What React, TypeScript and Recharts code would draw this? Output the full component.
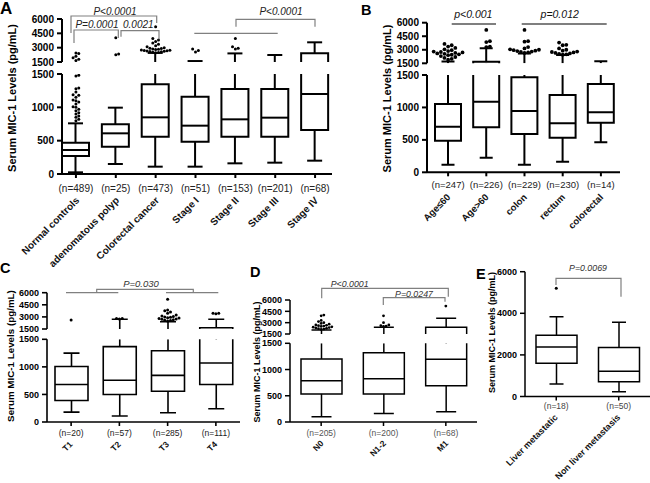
import React from 'react';
import { ComposedChart, Bar, Scatter, XAxis, YAxis } from 'recharts';

const W = 650;
const H = 483;
const FONT = '"Liberation Sans", Arial, Helvetica, sans-serif';

// ---- panel A: controls / polyp / cancer / stages ----
const aCats = ['Normal controls', 'adenomatous polyp', 'Colorectal cancer', 'Stage I', 'Stage II', 'Stage III', 'Stage IV'];
const aN = [489, 25, 473, 51, 153, 201, 68];
const aLo = [25, 150, 110, 110, 160, 170, 200];
const aQ1 = [270, 410, 560, 485, 560, 560, 660];
const aMed = [360, 610, 850, 725, 820, 845, 1200];
const aQ3 = [470, 745, 1345, 1160, 1275, 1275, 2410];
const aHi = [760, 995, 2450, 1600, 2400, 2230, 3560];
const aOut = [
  [800, 820, 850, 870, 900, 920, 950, 970, 1000, 1010, 1050, 1080, 1100, 1110, 1150, 1180, 1190, 1230, 1280, 1290, 1470, 1480,
    1650, 1800, 1950, 2100, 2400, 2450],
  [2250, 2350, 4050],
  [2460, 2500, 2530, 2560, 2600, 2620, 2650, 2680, 2700, 2730, 2760, 2800, 2830, 2870, 2900, 2950, 3000, 3100, 3200, 3350,
    3500, 3650, 3800, 3950, 5200],
  [2550, 2700, 2850],
  [2850, 2950, 3100, 3950],
  [],
  [],
];

// ---- panel B: age / location ----
const bCats = ['Age≤60', 'Age>60', 'colon', 'rectum', 'colorectal'];
const bN = [247, 226, 229, 230, 14];
const bLo = [117, 225, 117, 163, 462];
const bQ1 = [487, 694, 590, 533, 765];
const bMed = [703, 1088, 945, 755, 925];
const bQ3 = [1053, 1680, 1465, 1192, 1361];
const bHi = [1700, 3160, 2600, 2420, 1720];
const bOut = [
  [1900, 2000, 2100, 2200, 2300, 2400, 2450, 2500, 2550, 2600, 2650, 2700, 2750, 2800, 2850, 2950, 3050, 3200, 3350, 3500, 3650],
  [3300, 3350, 3850, 3950, 5200],
  [2650, 2700, 2750, 2800, 2850, 2900, 2950, 3000, 3050, 3150, 3300, 3900, 3950, 5200],
  [2450, 2500, 2550, 2600, 2650, 2700, 2750, 2800, 2900, 3000, 3150, 3500, 3550, 3800],
  [],
];

// ---- panel C: T stage ----
const cCats = ['T1', 'T2', 'T3', 'T4'];
const cN = [20, 57, 285, 111];
const cLo = [180, 108, 169, 241];
const cQ1 = [391, 499, 558, 679];
const cMed = [679, 756, 846, 1070];
const cQ3 = [1008, 1368, 1291, 1660];
const cHi = [1250, 2700, 2405, 2700];
const cOut = [
  [2620],
  [2750, 2800, 2800],
  [2500, 2550, 2600, 2650, 2700, 2750, 2800, 2850, 2900, 2950, 3000, 3050, 3100, 3250, 3450, 3600, 3750, 3850, 5180],
  [3400, 3450, 3450],
];

// ---- panel D: N / M stage ----
const dCats = ['N0', 'N1-2', 'M1'];
const dN = [205, 200, 68];
const dLo = [102, 164, 196];
const dQ1 = [536, 536, 693];
const dMed = [788, 825, 1197];
const dQ3 = [1203, 1322, 2390];
const dHi = [2030, 2390, 3580];
const dOut = [
  [2100, 2150, 2200, 2250, 2300, 2350, 2400, 2450, 2500, 2550, 2600, 2650, 2700, 2800, 2900, 3000, 3150, 3300, 3900, 4000],
  [2500, 2550, 2600, 2700, 3000, 3900],
  [5200],
];

// ---- panel E: liver metastasis ----
const eCats = ['Liver metastatic', 'Non liver metastasis'];
const eN = [18, 50];
const eLo = [600, 228];
const eQ1 = [1600, 712];
const eMed = [2375, 1213];
const eQ3 = [2940, 2360];
const eHi = [3830, 3570];
const eOut = [[5200], []];

const upTicks = [1500, 3000, 4500, 6000];
const loTicks = [0, 500, 1000, 1500];
const eTicks = [0, 2000, 4000, 6000];

type Row = { name: string; n: number; lo: number; q1: number; med: number; q3: number; hi: number; out: number[] };

function toRows(cats: string[], n: number[], lo: number[], q1: number[], med: number[], q3: number[], hi: number[], out: number[][]): Row[] {
  return cats.map((c, i) => ({ name: c, n: n[i], lo: lo[i], q1: q1[i], med: med[i], q3: q3[i], hi: hi[i], out: out[i] }));
}

const aRows = toRows(aCats, aN, aLo, aQ1, aMed, aQ3, aHi, aOut);
const bRows = toRows(bCats, bN, bLo, bQ1, bMed, bQ3, bHi, bOut);
const cRows = toRows(cCats, cN, cLo, cQ1, cMed, cQ3, cHi, cOut);
const dRows = toRows(dCats, dN, dLo, dQ1, dMed, dQ3, dHi, dOut);
const eRows = toRows(eCats, eN, eLo, eQ1, eMed, eQ3, eHi, eOut);

function clip(a: number, b: number, d0: number, d1: number) {
  const lo = Math.max(a, d0);
  const hi = Math.min(b, d1);
  return lo < hi ? [lo, hi] : null;
}

// rows for one segment of a broken axis; outliers get a beeswarm slot
function segRows(rows: Row[], dom: number[], px: number, dotPx: number) {
  const thr = ((dom[1] - dom[0]) * dotPx) / px;
  return rows.map((r) => {
    const o: any = { name: r.name, raw: r };
    o.w = clip(r.lo, r.hi, dom[0], dom[1]);
    o.box = clip(r.q1, r.q3, dom[0], dom[1]);
    o.mid = r.med >= dom[0] && r.med <= dom[1] ? clip(r.q1, r.med, dom[0], dom[1]) : null;
    const vals = r.out.filter((v) => v >= dom[0] && v <= dom[1]).sort((a, b) => a - b);
    const placed: { v: number; s: number }[] = [];
    vals.forEach((v, k) => {
      let s = 0;
      for (let t = 0; t < 60; t++) {
        const cand = t === 0 ? 0 : t % 2 ? (t + 1) / 2 : -t / 2;
        if (!placed.some((p) => p.s === cand && Math.abs(p.v - v) < thr)) {
          s = cand;
          break;
        }
      }
      placed.push({ v, s });
      o['o' + k] = v;
      o['s' + k] = s;
    });
    return o;
  });
}

const Whisker = (p: any) => {
  const { x, y, width, height, payload, st, dom } = p;
  if (!payload || !payload.w || !Number.isFinite(y) || !Number.isFinite(height)) return <g />;
  const r = payload.raw;
  const cx = x + width / 2;
  return (
    <g stroke="#000" strokeWidth={st.sw}>
      <line x1={cx} x2={cx} y1={y} y2={y + height} />
      {r.hi <= dom[1] && <line x1={cx - st.cap / 2} x2={cx + st.cap / 2} y1={y} y2={y} />}
      {r.lo >= dom[0] && <line x1={cx - st.cap / 2} x2={cx + st.cap / 2} y1={y + height} y2={y + height} />}
    </g>
  );
};

const BoxRect = (p: any) => {
  const { x, y, width, height, payload, st, dom } = p;
  if (!payload || !payload.box || !Number.isFinite(y) || !Number.isFinite(height)) return <g />;
  const r = payload.raw;
  const x2 = x + width;
  const y2 = y + height;
  let d = `M${x},${y} V${y2} M${x2},${y} V${y2}`;
  if (r.q3 <= dom[1]) d += ` M${x},${y} H${x2}`;
  if (r.q1 >= dom[0]) d += ` M${x},${y2} H${x2}`;
  return (
    <g>
      <rect x={x} y={y} width={width} height={height} fill="#fff" />
      <path d={d} stroke="#000" strokeWidth={st.sw} fill="none" strokeLinecap="square" />
    </g>
  );
};

const Median = (p: any) => {
  const { x, y, width, payload, st } = p;
  if (!payload || !payload.mid || !Number.isFinite(y)) return <g />;
  return <line x1={x} x2={x + width} y1={y} y2={y} stroke="#000" strokeWidth={st.sw} />;
};

const XTick = (p: any) => {
  const { x, y, payload, index, rows, xl } = p;
  const r = rows[index];
  return (
    <g fontFamily={FONT}>
      <text x={x} y={y + xl.nDy} textAnchor="middle" fontSize={xl.nFont} fill={xl.nColor}>
        (n={r ? r.n : ''})
      </text>
      <text
        transform={`translate(${x + xl.labDx},${y + xl.labDy}) rotate(-45)`}
        textAnchor="end"
        fontSize={xl.labFont}
        fontWeight="bold"
        fill="#111"
      >
        {payload.value}
      </text>
    </g>
  );
};

function Layer({ rows, dom, ticks, geo, st, xl }: any) {
  const data = segRows(rows, dom, geo.bottom - geo.top, st.dot * 2.1);
  const nOut = Math.max(0, ...rows.map((r: Row) => r.out.length));
  const yw = 40;
  const margin = {
    top: geo.top,
    right: W - geo.right,
    left: geo.left - yw,
    bottom: xl ? 0 : H - geo.bottom,
  };
  const axisStyle = { stroke: '#000', strokeWidth: st.axisW };
  return (
    <div style={{ position: 'absolute', left: 0, top: 0 }}>
      <ComposedChart width={W} height={H} data={data} margin={margin} barGap={-st.bar} barCategoryGap={0}>
        <XAxis
          dataKey="name"
          hide={!xl}
          height={xl ? H - geo.bottom : 0}
          padding={{ left: st.padL, right: st.padR }}
          axisLine={axisStyle}
          tickLine={axisStyle}
          tickSize={4}
          tickMargin={2}
          interval={0}
          tick={xl ? <XTick rows={rows} xl={xl} /> : false}
        />
        <YAxis
          type="number"
          domain={dom}
          ticks={ticks}
          allowDataOverflow
          interval={0}
          width={yw}
          axisLine={axisStyle}
          tickLine={axisStyle}
          tickSize={5}
          tickMargin={3}
          tick={{ fontSize: st.tickFont, fontWeight: 'bold', fill: '#000', fontFamily: FONT }}
        />
        <Bar dataKey="w" barSize={st.bar} isAnimationActive={false} shape={(p: any) => <Whisker {...p} st={st} dom={dom} />} />
        <Bar dataKey="box" barSize={st.bar} isAnimationActive={false} shape={(p: any) => <BoxRect {...p} st={st} dom={dom} />} />
        <Bar dataKey="mid" barSize={st.bar} isAnimationActive={false} shape={(p: any) => <Median {...p} st={st} />} />
        {Array.from({ length: nOut }, (_, k) => (
          <Scatter
            key={k}
            dataKey={'o' + k}
            isAnimationActive={false}
            shape={(p: any) => {
              const v = p.payload ? p.payload['o' + k] : null;
              if (v == null || !Number.isFinite(p.cx) || !Number.isFinite(p.cy)) return <g />;
              const s = p.payload['s' + k] || 0;
              return <circle cx={p.cx + s * st.dot * 1.9} cy={p.cy} r={st.dot} fill="#000" />;
            }}
          />
        ))}
      </ComposedChart>
    </div>
  );
}

const aSt = { bar: 27, cap: 15, sw: 2, dot: 1.5, tickFont: 10, axisW: 2, padL: -6, padR: -3 };
const bSt = { bar: 26, cap: 13, sw: 2, dot: 1.9, tickFont: 10, axisW: 2, padL: 2, padR: 0 };
const cSt = { bar: 33, cap: 16, sw: 1.6, dot: 1.5, tickFont: 9, axisW: 1.6, padL: 0, padR: 0 };
const dSt = { bar: 41, cap: 20, sw: 1.5, dot: 1.4, tickFont: 9, axisW: 1.5, padL: 0, padR: 0 };
const eSt = { bar: 41, cap: 14, sw: 1.5, dot: 1.5, tickFont: 9, axisW: 1.5, padL: 0, padR: 0 };

const aXl = { nFont: 10, nDy: 11.5, nColor: '#222', labFont: 10, labDx: 4, labDy: 21 };
const bXl = { nFont: 9.5, nDy: 10, nColor: '#222', labFont: 9.5, labDx: 3, labDy: 19.5 };
const cXl = { nFont: 8.5, nDy: 8.3, nColor: '#222', labFont: 8.5, labDx: 2, labDy: 17 };
const dXl = { nFont: 8.5, nDy: 8.3, nColor: '#555', labFont: 8.5, labDx: 3, labDy: 16 };
const eXl = { nFont: 8.5, nDy: 6.5, nColor: '#444', labFont: 9, labDx: 2, labDy: 15.5 };

const YLabel = ({ x, y, size }: { x: number; y: number; size: number }) => (
  <text transform={`translate(${x},${y}) rotate(-90)`} textAnchor="middle" fontSize={size} fontWeight="bold" fill="#000">
    Serum MIC-1 Levels (pg/mL)
  </text>
);

const PText = ({ x, y, size, fill, children }: any) => (
  <text x={x} y={y} textAnchor="middle" fontSize={size} fontStyle="italic" fill={fill}>
    {children}
  </text>
);

function Overlay() {
  const g = '#808080';
  return (
    <svg width={W} height={H} style={{ position: 'absolute', left: 0, top: 0, pointerEvents: 'none' }} fontFamily={FONT}>
      <g fontWeight="bold" fill="#000">
        <text x={0} y={14} fontSize={17}>A</text>
        <text x={361} y={15} fontSize={14.5}>B</text>
        <text x={0} y={273} fontSize={14.5}>C</text>
        <text x={250} y={277} fontSize={14.5}>D</text>
        <text x={476} y={278.5} fontSize={14.5}>E</text>
      </g>
      <YLabel x={15.5} y={98} size={11} />
      <YLabel x={391} y={98.5} size={11} />
      <YLabel x={13.7} y={356} size={9.8} />
      <YLabel x={259.7} y={362} size={9} />
      <YLabel x={494.7} y={332.5} size={9} />

      <g stroke={g} strokeWidth={1.2} fill="none">
        <path d="M71,33 V16 H156.7 V23" />
        <path d="M74,43 V30 H118.3 V38" />
        <path d="M121,36.7 V30.7 H159 V39.3" />
        <path d="M236,26.7 V19.3 H315 V26.7" />
        <path d="M194.3,33.3 H277.7" />
        <path d="M66,292.7 H118.3 M166,292.7 H218.3 M96.7,292.7 V289.3 H193.3 V292.7" />
        <path d="M321.7,298.3 V288.3 H448.3 V296.7" />
        <path d="M383.3,305 V297.7 H445 V301.7" />
        <path d="M556,285 V278.3 H621 V296.7" />
      </g>
      <g stroke="#000" strokeWidth={1.2}>
        <path d="M451.7,24 H496 M521.7,24 H606.7" />
      </g>
      <PText x={115} y={15} size={10} fill="#222">P&lt;0.0001</PText>
      <PText x={97} y={28.3} size={10} fill="#222">P=0.0001</PText>
      <PText x={138.3} y={28.3} size={10} fill="#222">0.0021</PText>
      <PText x={281} y={15} size={10} fill="#222">P&lt;0.0001</PText>
      <PText x={473.3} y={17.5} size={10.5} fill="#111">p&lt;0.001</PText>
      <PText x={559.7} y={17.5} size={10.5} fill="#111">p=0.012</PText>
      <PText x={141} y={286.5} size={9.5} fill="#333">P=0.030</PText>
      <PText x={349.7} y={287} size={8.8} fill="#333">P&lt;0.0001</PText>
      <PText x={414} y={297} size={8.8} fill="#333">P=0.0247</PText>
      <PText x={588} y={271} size={8.8} fill="#333">P=0.0069</PText>
    </svg>
  );
}

export default function App() {
  return (
    <div style={{ position: 'absolute', left: 0, top: 0, width: W, height: H, background: '#fff', overflow: 'hidden', fontFamily: FONT }}>
      <Layer rows={aRows} dom={[1500, 6000]} ticks={upTicks} geo={{ left: 62, right: 332, top: 19, bottom: 62 }} st={aSt} />
      <Layer rows={aRows} dom={[0, 1500]} ticks={loTicks} geo={{ left: 62, right: 332, top: 74, bottom: 174 }} st={aSt} xl={aXl} />
      <Layer rows={bRows} dom={[1500, 6000]} ticks={upTicks} geo={{ left: 427, right: 620, top: 22.7, bottom: 63.3 }} st={bSt} />
      <Layer rows={bRows} dom={[0, 1500]} ticks={loTicks} geo={{ left: 427, right: 620, top: 75, bottom: 172.3 }} st={bSt} xl={bXl} />
      <Layer rows={cRows} dom={[1500, 6000]} ticks={upTicks} geo={{ left: 47, right: 240, top: 292.7, bottom: 329 }} st={cSt} />
      <Layer rows={cRows} dom={[0, 1500]} ticks={loTicks} geo={{ left: 47, right: 240, top: 339.3, bottom: 422 }} st={cSt} xl={cXl} />
      <Layer rows={dRows} dom={[1500, 6000]} ticks={upTicks} geo={{ left: 290, right: 477, top: 300, bottom: 334 }} st={dSt} />
      <Layer rows={dRows} dom={[0, 1500]} ticks={loTicks} geo={{ left: 290, right: 477, top: 343.3, bottom: 422 }} st={dSt} xl={dXl} />
      <Layer rows={eRows} dom={[0, 6000]} ticks={eTicks} geo={{ left: 525, right: 650, top: 271.7, bottom: 396.5 }} st={eSt} xl={eXl} />
      <Overlay />
    </div>
  );
}
